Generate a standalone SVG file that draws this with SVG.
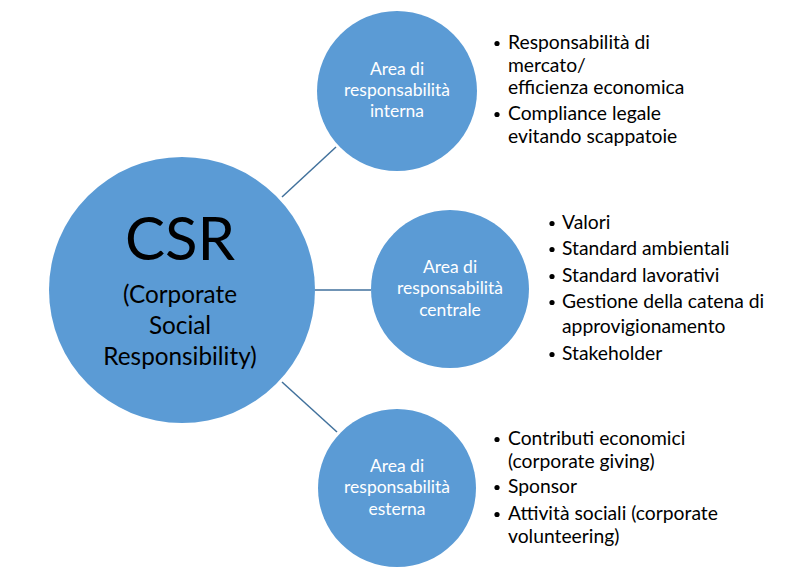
<svg xmlns="http://www.w3.org/2000/svg" width="806" height="586" viewBox="0 0 806 586">
<style>
.node{fill:#5B9BD5;}
.lbl{font-family:Lato,"Liberation Sans",sans-serif;font-size:17.5px;fill:#fff;text-anchor:middle;}
.csr{font-family:Lato,"Liberation Sans",sans-serif;fill:#000;text-anchor:middle;}
.li{font-family:Lato,"Liberation Sans",sans-serif;font-size:19.3px;fill:#000;}
.conn line{stroke:#41719C;stroke-width:1.5;}
.dot{fill:#000;}
</style>
<rect width="806" height="586" fill="#fff"/>
<g class="conn" id="connectors">
<line x1="282" y1="197" x2="336" y2="147"/>
<line x1="315" y1="290" x2="371" y2="290"/>
<line x1="282" y1="382" x2="337" y2="432"/>
</g>
<g id="csr">
<circle class="node" cx="182" cy="290" r="133"/>
<text class="csr" x="180" y="260" font-size="60">CSR</text>
<text class="csr" x="180" y="303" font-size="24.3">(Corporate</text>
<text class="csr" x="180" y="334" font-size="24.3">Social</text>
<text class="csr" x="180" y="365" font-size="24.3">Responsibility)</text>
</g>
<g id="interna">
<circle class="node" cx="397" cy="91" r="80"/>
<text class="lbl" x="397" y="75">Area di</text>
<text class="lbl" x="397" y="96">responsabilità</text>
<text class="lbl" x="397" y="117">interna</text>
</g>
<g id="centrale">
<circle class="node" cx="450" cy="289" r="79"/>
<text class="lbl" x="450" y="273">Area di</text>
<text class="lbl" x="450" y="294">responsabilità</text>
<text class="lbl" x="450" y="316">centrale</text>
</g>
<g id="esterna">
<circle class="node" cx="397" cy="488" r="79"/>
<text class="lbl" x="397" y="472">Area di</text>
<text class="lbl" x="397" y="493">responsabilità</text>
<text class="lbl" x="397" y="515">esterna</text>
</g>
<g id="list-interna">
<circle class="dot" cx="497" cy="43.5" r="2.6"/>
<text class="li" x="508" y="49">Responsabilità di</text>
<text class="li" x="508" y="72">mercato/</text>
<text class="li" x="508" y="94">efficienza economica</text>
<circle class="dot" cx="497" cy="114.5" r="2.6"/>
<text class="li" x="508" y="120">Compliance legale</text>
<text class="li" x="508" y="143">evitando scappatoie</text>
</g>
<g id="list-centrale">
<circle class="dot" cx="552" cy="223.5" r="2.6"/>
<text class="li" x="562" y="229">Valori</text>
<circle class="dot" cx="552" cy="249.5" r="2.6"/>
<text class="li" x="562" y="255">Standard ambientali</text>
<circle class="dot" cx="552" cy="276.5" r="2.6"/>
<text class="li" x="562" y="282">Standard lavorativi</text>
<circle class="dot" cx="552" cy="302.5" r="2.6"/>
<text class="li" x="562" y="308">Gestione della catena di</text>
<text class="li" x="562" y="333">approvigionamento</text>
<circle class="dot" cx="552" cy="354.5" r="2.6"/>
<text class="li" x="562" y="360">Stakeholder</text>
</g>
<g id="list-esterna">
<circle class="dot" cx="497" cy="439.5" r="2.6"/>
<text class="li" x="508" y="445">Contributi economici</text>
<text class="li" x="508" y="468">(corporate giving)</text>
<circle class="dot" cx="497" cy="487.5" r="2.6"/>
<text class="li" x="508" y="493">Sponsor</text>
<circle class="dot" cx="497" cy="514.5" r="2.6"/>
<text class="li" x="508" y="520">Attività sociali (corporate</text>
<text class="li" x="508" y="543">volunteering)</text>
</g>
</svg>
